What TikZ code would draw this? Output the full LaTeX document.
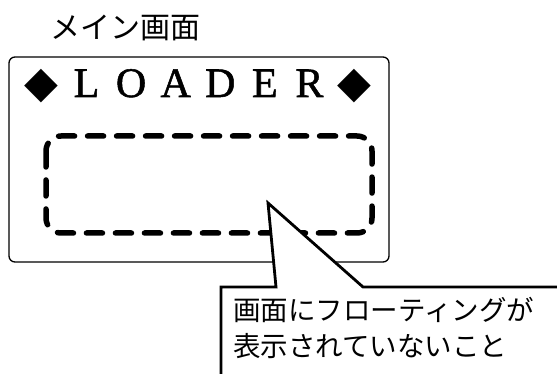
\documentclass[tikz,border=0pt]{standalone}
\usepackage{fontspec}
\setmainfont{Liberation Serif}
\newfontfamily\jpfont{Noto Sans CJK JP}
\newfontfamily\symfont{DejaVu Sans}
\newfontfamily\loaderfont[FakeBold=1.2]{Liberation Serif}
\newcommand{\lc}[1]{\makebox[44.6pt][c]{#1}}
\tikzset{
  screenbox/.style={draw, line width=1.3pt, rounded corners=6pt},
  floatarea/.style={draw, line width=5.5pt, dash pattern=on 16pt off 13pt, line cap=round, rounded corners=15pt},
  calloutline/.style={line width=2.8pt, line join=miter},
  jptext/.style={inner sep=0pt, font=\jpfont\fontsize{27.5pt}{36pt}\selectfont},
}
\begin{document}
\begin{tikzpicture}[x=1pt,y=-1pt]
\useasboundingbox (0,0) rectangle (557,374);
% title
\node[inner sep=0pt, anchor=base west, font=\jpfont\fontsize{30pt}{36pt}\selectfont] (title) at (50,39) {メイン画面};
% screen
\draw[screenbox] (9,57) rectangle (389,262);
\node[inner sep=0pt, anchor=base, font=\loaderfont\fontsize{42pt}{44pt}\selectfont] (loader) at (198,97)
  {\lc{\raisebox{-1pt}{\symfont\fontsize{44pt}{44pt}\selectfont ◆}}\lc{L}\lc{O}\lc{A}\lc{D}\lc{E}\lc{R}\lc{\raisebox{-1pt}{\symfont\fontsize{44pt}{44pt}\selectfont ◆}}};
% floating area
\draw[floatarea] (46,136) rectangle (372,233);
% callout
\coordinate (cbl) at (221,380);
\coordinate (ctl) at (221,287);
\coordinate (tl) at (276,287);
\coordinate (tip) at (268,203);
\coordinate (tr) at (363,287);
\coordinate (ctr) at (565,287);
\fill[white] (cbl) -- (ctl) -- (tl) -- (tip) -- (tr) -- (ctr) -- (565,380) -- cycle;
\draw[calloutline] (cbl) -- (ctl) -- (tl) -- (tip) -- (tr) -- (ctr);
\node[jptext, anchor=base west] (msg1) at (233,320) {画面にフローティングが};
\node[jptext, anchor=base west] (msg2) at (233,356) {表示されていないこと};
\end{tikzpicture}
\end{document}
